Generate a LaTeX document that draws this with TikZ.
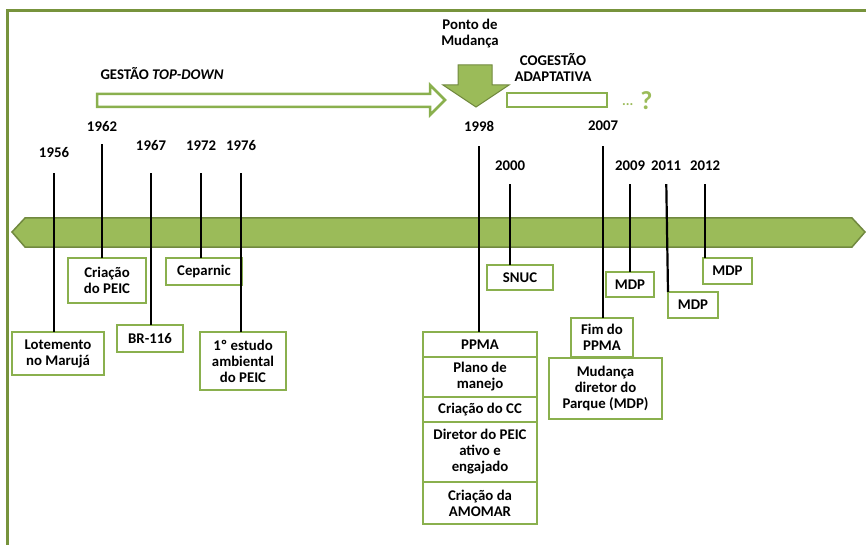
\documentclass[tikz,border=0pt]{standalone}
\usepackage{fontspec}
\setmainfont{Carlito}
\usetikzlibrary{positioning}
\definecolor{leaf}{HTML}{9BBB59}
\definecolor{leafdark}{HTML}{71893F}
\definecolor{leafline}{HTML}{8AB04E}
\definecolor{framegreen}{HTML}{77933C}

\begin{document}
\begin{tikzpicture}[x=1pt, y=-1pt,
    every node/.style={font=\fontsize{14.8}{16}\selectfont\bfseries},
    event/.style={rectangle, draw=leafline, line width=2.5pt, fill=white,
    align=center, inner sep=2pt, outer sep=0pt},
    year/.style={inner sep=1pt},
    stem/.style={line width=2.2pt, shorten <=12pt},
    phase/.style={align=center, inner sep=1pt}]
    \useasboundingbox (0,0) rectangle (866,545);

    % frame and timeline band
    \draw [framegreen, line width=3pt] (7,545) -- (7,11) -- (866,11);
    \draw [leafdark, fill=leaf, line width=1.5pt] (12,232) -- (25,218) -- (852,218)
        -- (865,232) -- (852,247) -- (25,247) -- cycle;

    % phases
    \node [phase] (topdown) at (162,74) {GESTÃO \textit{TOP-DOWN}};
    \node [phase] (ponto) at (470,34) {Ponto de\\Mudança};
    \node [phase] (cogestao) at (553,67) {COGESTÃO\\ADAPTATIVA};
    \draw [leafline, fill=white, line width=2.5pt] (97,94) -- (430,94) -- (430,85) -- (445,100)
        -- (430,115) -- (430,107) -- (97,107) -- cycle;
    \draw [leafdark, fill=leaf, line width=1pt] (458,65) -- (492,65) -- (492,85) -- (509,85)
        -- (476,107) -- (443,85) -- (458,85) -- cycle;
    \draw [leafline, fill=white, line width=2.5pt] (507,93) rectangle (607,107);
    \node [text=leaf, anchor=base west, inner sep=0pt] (more) at (622,110)
        {\raisebox{4pt}{\fontsize{14}{14}\selectfont...}\hspace{7pt}{\fontsize{26}{26}\selectfont ?}};

    % years
    \node [year] (y1956) at (54,153) {1956};
    \node [year] (y1962) at (102,127) {1962};
    \node [year] (y1967) at (151,146) {1967};
    \node [year] (y1972) at (201,146) {1972};
    \node [year] (y1976) at (241,146) {1976};
    \node [year] (y1998) at (479,126) {1998};
    \node [year] (y2000) at (510,166) {2000};
    \node [year] (y2007) at (603,126) {2007};
    \node [year] (y2009) at (630,166) {2009};
    \node [year] (y2011) at (666,166) {2011};
    \node [year] (y2012) at (705,166) {2012};

    % events
    \node [event, minimum width=92pt, minimum height=43pt] (marujá) at (58,353.5) {Lotemento\\no Marujá};
    \node [event, minimum width=78pt, minimum height=45pt] (peic) at (107,280.5) {Criação\\do PEIC};
    \node [event, minimum width=66pt, minimum height=27pt] (br) at (150,338.5) {BR-116};
    \node [event, minimum width=76pt, minimum height=27pt] (ceparnic) at (204,271.5) {Ceparnic};
    \node [event, minimum width=86pt, minimum height=58pt] (estudo) at (243,361) {1º estudo\\ambiental\\do PEIC};
    \node [event, minimum width=66pt, minimum height=25pt] (snuc) at (520,277.5) {SNUC};
    \node [event, minimum width=48pt, minimum height=25pt] (mdpa) at (630,284.5) {MDP};
    \node [event, minimum width=50pt, minimum height=26pt] (mdpb) at (693,305) {MDP};
    \node [event, minimum width=49pt, minimum height=26pt] (mdpc) at (727.5,271) {MDP};
    \node [event, minimum width=62pt, minimum height=39pt] (fim) at (602,337.5) {Fim do\\PPMA};
    \node [event, minimum width=113pt, minimum height=61pt] (mudanca) at (605.5,388.5) {Mudança\\diretor do\\Parque (MDP)};

    \node [event, minimum width=114pt, minimum height=25pt] (ppma) at (480,344.5) {PPMA};
    \node [event, minimum width=114pt, minimum height=40pt, below=0pt of ppma] (plano) {Plano de\\manejo};
    \node [event, minimum width=114pt, minimum height=25pt, below=0pt of plano] (cc) {Criação do CC};
    \node [event, minimum width=114pt, minimum height=60pt, below=0pt of cc] (diretor) {Diretor do PEIC\\ativo e\\engajado};
    \node [event, minimum width=114pt, minimum height=42pt, below=0pt of diretor] (amomar) {Criação da\\AMOMAR};

    % stems
    \draw [stem, shorten <=14pt] (y1956) -- (y1956 |- marujá.north);
    \draw [stem, shorten <=11pt] (y1962) -- (y1962 |- peic.north);
    \draw [stem, shorten <=21pt] (y1967) -- (y1967 |- br.north);
    \draw [stem, shorten <=21pt] (y1972) -- (y1972 |- ceparnic.north);
    \draw [stem, shorten <=21pt] (y1976) -- (y1976 |- estudo.north);
    \draw [stem, shorten <=14pt] (y1998) -- (y1998 |- ppma.north);
    \draw [stem] (y2000) -- (y2000 |- snuc.north);
    \draw [stem, shorten <=14pt] (y2007) -- (y2007 |- fim.north);
    \draw [stem] (y2009) -- (y2009 |- mdpa.north);
    \draw [stem] (y2011) -- (mdpb.north west);
    \draw [stem] (y2012) -- (y2012 |- mdpc.north);
\end{tikzpicture}
\end{document}
